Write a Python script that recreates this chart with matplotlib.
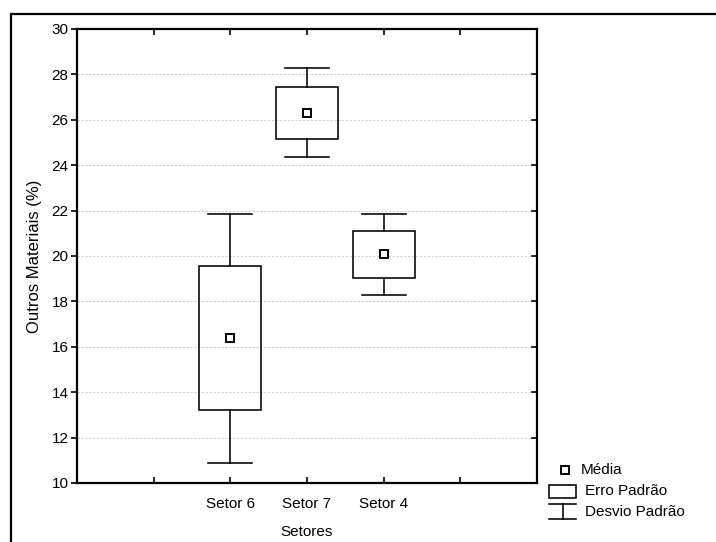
import matplotlib
matplotlib.use("Agg")
import matplotlib.pyplot as plt
from matplotlib.patches import Rectangle
from matplotlib.lines import Line2D

categories = ["Setor 6", "Setor 7", "Setor 4"]
means = [16.38, 26.31, 20.07]
se = [3.16, 1.15, 1.03]
sd = [5.48, 1.97, 1.77]
yticks = [10, 12, 14, 16, 18, 20, 22, 24, 26, 28, 30]

plt.rcParams['font.family'] = ['Liberation Sans', 'DejaVu Sans']
W, H = 716, 542
fig = plt.figure(figsize=(W / 100, H / 100), dpi=100)

def px(x0, y0):
    return (x0 / W, 1 - y0 / H)

LW = 1.15
ax = fig.add_axes([77 / W, 1 - 483 / H, 460 / W, 454 / H])
positions = [2, 3, 4]
box_w = 0.81
cap_w = 0.575
for p, m, s, d in zip(positions, means, se, sd):
    ax.add_patch(Rectangle((p - box_w / 2, m - s), box_w, 2 * s, fill=False,
                           edgecolor='black', lw=LW, zorder=3))
    ax.plot([p, p], [m + s, m + d], color='black', lw=LW, zorder=3)
    ax.plot([p, p], [m - s, m - d], color='black', lw=LW, zorder=3)
    ax.plot([p - cap_w / 2, p + cap_w / 2], [m + d, m + d], color='black', lw=LW, zorder=3)
    ax.plot([p - cap_w / 2, p + cap_w / 2], [m - d, m - d], color='black', lw=LW, zorder=3)
    ax.plot([p], [m], marker='s', ms=5.5, mfc='white', mec='black', mew=1.4, zorder=4)

ax.set_xlim(0, 6)
ax.set_ylim(10, 30)
ax.set_yticks(yticks)
ax.set_xticks([1, 2, 3, 4, 5])
ax.set_xticklabels(["", *categories, ""])
ax.tick_params(axis='x', direction='in', top=True, bottom=True, length=4, width=1.2, labelsize=11, pad=10)
ax.tick_params(axis='y', direction='out', left=True, right=False, length=4, width=1.2, labelsize=11, pad=2)
for y in yticks[1:-1]:
    ax.plot([6 - 0.06, 6], [y, y], color='black', lw=1.2, clip_on=False, zorder=5)
ax.grid(axis='y', color='#cfcfcf', ls=(0, (2.5, 1.5)), lw=0.7)
ax.set_axisbelow(True)
for sp in ax.spines.values():
    sp.set_linewidth(1.6)
ax.set_xlabel("Setores", fontsize=11, labelpad=10)
ax.set_ylabel("Outros Materiais (%)", fontsize=12, labelpad=7)

# outer frame
fig.add_artist(Rectangle(px(11, 545), (W + 10) / W, (545 - 14) / H, transform=fig.transFigure,
                         fill=False, edgecolor='black', lw=1.6))

# legend (manual)
fig.add_artist(Line2D([565 / W], [1 - 470 / H], marker='s', ms=5.5, mfc='white', mec='black',
                      mew=1.4, transform=fig.transFigure))
fig.add_artist(Rectangle(px(549, 498), 27 / W, 13 / H, transform=fig.transFigure,
                         fill=False, edgecolor='black', lw=LW))
fig.add_artist(Line2D([549 / W, 576 / W], [1 - 504 / H] * 2, color='black', lw=LW, transform=fig.transFigure))
fig.add_artist(Line2D([562.5 / W, 562.5 / W], [1 - 504 / H, 1 - 519 / H], color='black', lw=LW, transform=fig.transFigure))
fig.add_artist(Line2D([549 / W, 576 / W], [1 - 519 / H] * 2, color='black', lw=LW, transform=fig.transFigure))
fig.text(581 / W, 1 - 470 / H, "Média", fontsize=11, va='center')
fig.text(585 / W, 1 - 491 / H, "Erro Padrão", fontsize=11, va='center')
fig.text(585 / W, 1 - 512 / H, "Desvio Padrão", fontsize=11, va='center')

fig.savefig("out.png", dpi=100)
